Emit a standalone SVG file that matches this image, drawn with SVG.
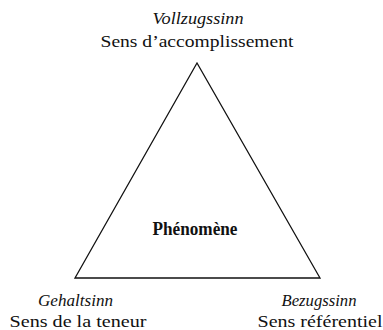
<svg xmlns="http://www.w3.org/2000/svg" width="383" height="330" viewBox="0 0 383 330">
<style>
text{fill:#111;text-anchor:middle;font-family:'Liberation Serif',serif}
.it{font-style:italic;font-size:16px}
.rm{font-size:17px}
.c{font-size:18px;font-weight:bold}
</style>
<rect width="383" height="330" fill="#fff"/>
<g id="connectors">
<polygon points="197,63 75,278 320,278" fill="none" stroke="#111" stroke-width="1.3"/>
</g>
<g id="node-phenomene"><text class="c" x="195" y="235" textLength="85" lengthAdjust="spacingAndGlyphs">Phénomène</text></g>
<g id="node-vollzug">
<text class="it" x="198" y="24" textLength="91" lengthAdjust="spacingAndGlyphs">Vollzugssinn</text>
<text class="rm" x="197" y="47" textLength="193" lengthAdjust="spacingAndGlyphs">Sens d’accomplissement</text>
</g>
<g id="node-gehalt">
<text class="it" x="75.5" y="306" textLength="75" lengthAdjust="spacingAndGlyphs">Gehaltsinn</text>
<text class="rm" x="78" y="327" textLength="137" lengthAdjust="spacingAndGlyphs">Sens de la teneur</text>
</g>
<g id="node-bezug">
<text class="it" x="319" y="306" textLength="75" lengthAdjust="spacingAndGlyphs">Bezugssinn</text>
<text class="rm" x="320" y="327" textLength="125" lengthAdjust="spacingAndGlyphs">Sens référentiel</text>
</g>
</svg>
